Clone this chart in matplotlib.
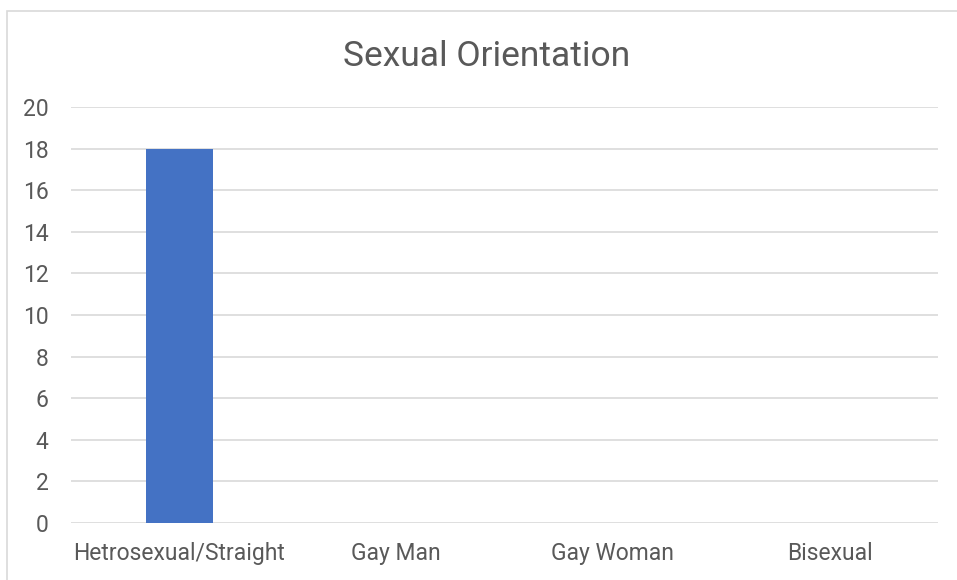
import matplotlib
matplotlib.use("Agg")
import matplotlib.pyplot as plt
from matplotlib.patches import Rectangle

categories = ["Hetrosexual/Straight", "Gay Man", "Gay Woman", "Bisexual"]
counts = [18, 0, 0, 0]
y_ticks = [0, 2, 4, 6, 8, 10, 12, 14, 16, 18, 20]

text_col = "#595959"
grid_col = "#d9d9d9"
bar_col = "#4472c4"

plt.rcParams["font.family"] = ["Roboto", "DejaVu Sans"]

W, H = 957, 580
fig = plt.figure(figsize=(W / 100, H / 100), dpi=100)

# chart border (cut off at right/bottom like the original)
fig.patches.append(Rectangle((7.5 / W, -0.1), 1.1, 1 - 10.5 / H + 0.1,
                             transform=fig.transFigure, fill=False,
                             edgecolor=grid_col, linewidth=1.2))

ax = fig.add_axes([71 / W, 1 - 523 / H, (938 - 71) / W, (523 - 107) / H])
x = range(len(categories))
ax.bar(x, counts, width=0.31, color=bar_col, zorder=3)

ax.set_xlim(-0.5, len(categories) - 0.5)
ax.set_ylim(0, 20)
ax.set_yticks(y_ticks)
ax.set_xticks(list(x))
ax.set_xticklabels(categories)
ax.yaxis.grid(True, color=grid_col, linewidth=1.2, zorder=0)
for s in ax.spines.values():
    s.set_visible(False)
ax.tick_params(axis="both", length=0, labelsize=16.5, colors=text_col)
ax.tick_params(axis="y", pad=16)
ax.tick_params(axis="x", pad=14)

fig.text(487 / W, 1 - 66 / H, "Sexual Orientation", ha="center", va="baseline",
         fontsize=25.5, color=text_col)

fig.savefig("out.png", dpi=100)
